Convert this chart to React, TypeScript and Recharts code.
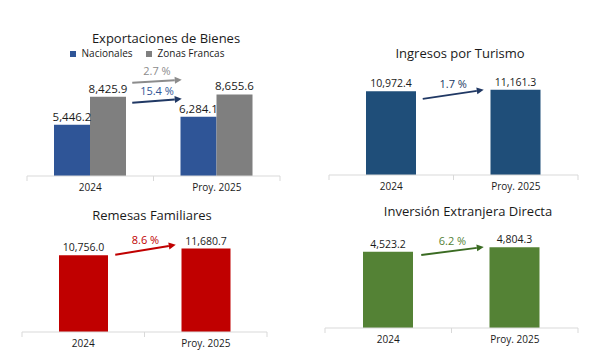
import { Bar, BarChart, LabelList, Legend, ReferenceLine, XAxis, YAxis } from "recharts";

const CATEGORIES = ["2024", "Proy. 2025"];

const NACIONALES = [5446.2, 6284.1];
const ZONAS_FRANCAS = [8425.9, 8655.6];
const TURISMO = [10972.4, 11161.3];
const REMESAS = [10756.0, 11680.7];
const IED = [4523.2, 4804.3];

// growth labels and the level (in data units) the arrows sit at
const GROWTH_ZF = "2.7 %";
const GROWTH_NAC = "15.4 %";
const GROWTH_TUR = "1.7 %";
const GROWTH_REM = "8.6 %";
const GROWTH_IED = "6.2 %";
const ARROW_ZF = [9894, 10213];
const ARROW_NAC = [7766, 8191];
const ARROW_TUR = [9961, 11140];
const ARROW_REM = [10800, 12202];
const ARROW_IED = [4337, 4813];

const FONT = "'Open Sans', sans-serif";
const TEXT = "#1a1a1a";
const AXIS = "#d9d9d9";

function fmt(v: number) {
  return v.toLocaleString("en-US", { minimumFractionDigits: 1, maximumFractionDigits: 1 });
}

function rows(...series: number[][]) {
  return CATEGORIES.map((cat, i) => {
    const r: Record<string, string | number> = { cat };
    series.forEach((s, k) => (r["v" + k] = s[i]));
    return r;
  });
}

function makeTick(halfBand: number) {
  return (props: any) => {
    const { x, y, payload, index } = props;
    return (
      <g>
        {index === 0 && <line x1={x - halfBand} x2={x - halfBand} y1={y - 8} y2={y - 3} stroke={AXIS} />}
        <line x1={x + halfBand} x2={x + halfBand} y1={y - 8} y2={y - 3} stroke={AXIS} />
        <text x={x} y={y + 3} dy="0.35em" textAnchor="middle" fontSize={10} fill={TEXT} fontFamily={FONT}>
          {payload.value}
        </text>
      </g>
    );
  };
}

function arrowShape(color: string, label: string, dxStart: number, dxEnd: number, labelColor = color) {
  return (props: any) => {
    const { x1, y1, x2, y2 } = props;
    const sx = x1 + dxStart;
    const ex = x2 - dxEnd;
    const a = Math.atan2(y2 - y1, ex - sx);
    const head = 7;
    const w = 3.5;
    const bx = ex - head * Math.cos(a);
    const by = y2 - head * Math.sin(a);
    const pts = [
      `${ex},${y2}`,
      `${bx - w * Math.sin(a)},${by + w * Math.cos(a)}`,
      `${bx + w * Math.sin(a)},${by - w * Math.cos(a)}`,
    ].join(" ");
    return (
      <g>
        <line x1={sx} y1={y1} x2={bx} y2={by} stroke={color} strokeWidth={2} />
        <polygon points={pts} fill={color} />
        <text
          x={(sx + ex) / 2}
          y={(y1 + y2) / 2 - 10}
          dy="0.35em"
          textAnchor="middle"
          fontSize={11}
          fill={labelColor}
          fontFamily={FONT}
        >
          {label}
        </text>
      </g>
    );
  };
}

function Title({ text, cx, cy }: { text: string; cx: number; cy: number }) {
  return (
    <div
      style={{
        position: "absolute",
        left: cx - 150,
        top: cy - 7,
        width: 300,
        lineHeight: "14px",
        textAlign: "center",
        fontSize: 13,
        color: TEXT,
        fontFamily: FONT,
      }}
    >
      {text}
    </div>
  );
}

const valueLabel = (size: number) => ({
  position: "top" as const,
  formatter: (v: any) => fmt(Number(v)),
  fontSize: size,
  fill: TEXT,
  fontFamily: FONT,
  offset: 4,
});

export default function App() {
  return (
    <div style={{ position: "absolute", left: 0, top: 0, width: 605, height: 363, background: "#fff", fontFamily: FONT }}>
      <Title text="Exportaciones de Bienes" cx={166} cy={38} />
      <div style={{ position: "absolute", left: 0, top: 0 }}>
        <BarChart
          width={300}
          height={200}
          data={rows(NACIONALES, ZONAS_FRANCAS)}
          margin={{ top: 47, right: 20, left: 27, bottom: 0 }}
          barGap={0}
        >
          <Legend
            verticalAlign="top"
            height={16}
            iconType="square"
            iconSize={6}
            wrapperStyle={{ fontSize: 10, fontFamily: FONT, lineHeight: "13px" }}
            formatter={(v) => <span style={{ color: TEXT, marginLeft: 2, marginRight: 3 }}>{v}</span>}
          />
          <XAxis dataKey="cat" height={24} stroke={AXIS} tickLine={false} tick={makeTick(63.25)} interval={0} />
          <YAxis hide domain={[0, 12000]} />
          <Bar dataKey="v0" name="Nacionales" fill="#2F5597" barSize={36} isAnimationActive={false}>
            <LabelList dataKey="v0" {...valueLabel(11.5)} />
          </Bar>
          <Bar dataKey="v1" name="Zonas Francas" fill="#7F7F7F" barSize={36} isAnimationActive={false}>
            <LabelList dataKey="v1" {...valueLabel(11.5)} />
          </Bar>
          <ReferenceLine
            ifOverflow="visible"
            segment={[
              { x: CATEGORIES[0], y: ARROW_ZF[0] },
              { x: CATEGORIES[1], y: ARROW_ZF[1] },
            ]}
            shape={arrowShape("#8C8C8C", GROWTH_ZF, 42, 35)}
          />
          <ReferenceLine
            ifOverflow="visible"
            segment={[
              { x: CATEGORIES[0], y: ARROW_NAC[0] },
              { x: CATEGORIES[1], y: ARROW_NAC[1] },
            ]}
            shape={arrowShape("#203864", GROWTH_NAC, 42, 35, "#2F5597")}
          />
        </BarChart>
      </div>

      <Title text="Ingresos por Turismo" cx={460} cy={53} />
      <div style={{ position: "absolute", left: 300, top: 0 }}>
        <BarChart
          width={305}
          height={199}
          data={rows(TURISMO)}
          margin={{ top: 68, right: 27, left: 29, bottom: 0 }}
        >
          <XAxis dataKey="cat" height={24} stroke={AXIS} tickLine={false} tick={makeTick(62.25)} interval={0} />
          <YAxis hide domain={[0, 14000]} />
          <Bar dataKey="v0" fill="#1F4E79" barSize={50} isAnimationActive={false}>
            <LabelList dataKey="v0" {...valueLabel(10.5)} />
          </Bar>
          <ReferenceLine
            ifOverflow="visible"
            segment={[
              { x: CATEGORIES[0], y: ARROW_TUR[0] },
              { x: CATEGORIES[1], y: ARROW_TUR[1] },
            ]}
            shape={arrowShape("#203864", GROWTH_TUR, 31.5, 32)}
          />
        </BarChart>
      </div>

      <Title text="Remesas Familiares" cx={152} cy={215} />
      <div style={{ position: "absolute", left: 0, top: 190 }}>
        <BarChart
          width={300}
          height={166}
          data={rows(REMESAS)}
          margin={{ top: 42, right: 33, left: 22, bottom: 0 }}
        >
          <XAxis dataKey="cat" height={24} stroke={AXIS} tickLine={false} tick={makeTick(61.25)} interval={0} />
          <YAxis hide domain={[0, 14000]} />
          <Bar dataKey="v0" fill="#C00000" barSize={49} isAnimationActive={false}>
            <LabelList dataKey="v0" {...valueLabel(10.5)} />
          </Bar>
          <ReferenceLine
            ifOverflow="visible"
            segment={[
              { x: CATEGORIES[0], y: ARROW_REM[0] },
              { x: CATEGORIES[1], y: ARROW_REM[1] },
            ]}
            shape={arrowShape("#C00000", GROWTH_REM, 32, 30)}
          />
        </BarChart>
      </div>

      <Title text="Inversión Extranjera Directa" cx={468} cy={211} />
      <div style={{ position: "absolute", left: 300, top: 190 }}>
        <BarChart
          width={305}
          height={162}
          data={rows(IED)}
          margin={{ top: 37, right: 27, left: 25, bottom: 0 }}
        >
          <XAxis dataKey="cat" height={24} stroke={AXIS} tickLine={false} tick={makeTick(63.25)} interval={0} />
          <YAxis hide domain={[0, 6000]} />
          <Bar dataKey="v0" fill="#548235" barSize={50} isAnimationActive={false}>
            <LabelList dataKey="v0" {...valueLabel(10.5)} />
          </Bar>
          <ReferenceLine
            ifOverflow="visible"
            segment={[
              { x: CATEGORIES[0], y: ARROW_IED[0] },
              { x: CATEGORIES[1], y: ARROW_IED[1] },
            ]}
            shape={arrowShape("#3A6B22", GROWTH_IED, 33, 31, "#538135")}
          />
        </BarChart>
      </div>
    </div>
  );
}
